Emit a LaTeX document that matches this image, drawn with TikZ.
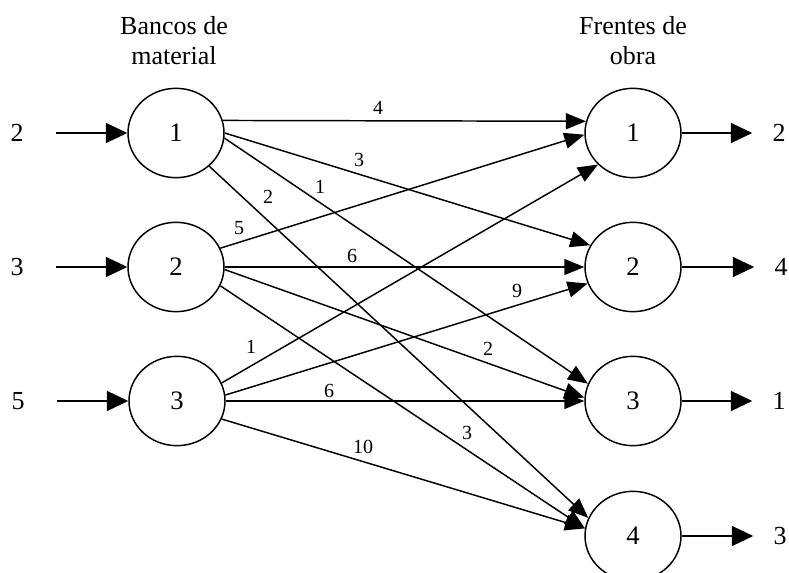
\documentclass[tikz,border=0pt]{standalone}
\usepackage{fontspec}
\setmainfont{Liberation Serif}
\usetikzlibrary{shapes.geometric,arrows.meta}

\begin{document}
\begin{tikzpicture}[x=0.75pt, y=-0.75pt,
    site/.style={ellipse, draw, line width=1.1pt, minimum width=72pt, minimum height=67pt, inner sep=0pt, font=\fontsize{20}{24}\selectfont},
    flow/.style={line width=1.1pt, -{Triangle[length=15pt, width=12pt]}},
    io/.style={line width=1.1pt, -{Triangle[length=16pt, width=15pt]}},
    qty/.style={inner sep=0pt, font=\fontsize{19.5}{22.5}\selectfont},
    cost/.style={fill=white, inner sep=1pt, font=\fontsize{15}{18}\selectfont}]
    \useasboundingbox (0,0) rectangle (789,573);

    % ==========================================
    % Column titles
    % ==========================================
    \node[qty, align=center] (banks) at (174,41) {Bancos de\\material};
    \node[qty, align=center] (fronts) at (633,41) {Frentes de\\obra};

    % Banks (left) and fronts (right)
    \node[site] (b1) at (176,133) {1};
    \node[site] (b2) at (176,267) {2};
    \node[site] (b3) at (177,401) {3};

    \node[site] (f1) at (633,133) {1};
    \node[site] (f2) at (633,267) {2};
    \node[site] (f3) at (633,401) {3};
    \node[site] (f4) at (633,536) {4};

    % Supplies
    \node[qty] (s1) at (17,133) {2};
    \node[qty] (s2) at (17,267) {3};
    \node[qty] (s3) at (18,401) {5};
    \draw[io, shorten <=24pt] (s1) -- (b1);
    \draw[io, shorten <=24pt] (s2) -- (b2);
    \draw[io, shorten <=24pt] (s3) -- (b3);

    % Demands
    \node[qty] (d1) at (779,133) {2};
    \node[qty] (d2) at (781,267) {4};
    \node[qty] (d3) at (779,401) {1};
    \node[qty] (d4) at (780,536) {3};
    \draw[io, shorten >=15pt] (f1) -- (d1);
    \draw[io, shorten >=15pt] (f2) -- (d2);
    \draw[io, shorten >=15pt] (f3) -- (d3);
    \draw[io, shorten >=15pt] (f4) -- (d4);

    % ==========================================
    % Haul routes bank -> front
    % ==========================================
    \draw[flow] (b1.15) -- (f1.166);
    \draw[flow] (b1.0) -- (f2.153);
    \draw[flow] (b1.-6) -- (f3.159);
    \draw[flow] (b1.-45) -- (f4.158);

    \draw[flow] (b2.23) -- (f1.182);
    \draw[flow] (b2) -- (f2);
    \draw[flow] (b2.-3) -- (f3.176);
    \draw[flow] (b2.-23) -- (f4.171);

    \draw[flow] (b3.22) -- (f1.222);
    \draw[flow] (b3.7) -- (f2.200);
    \draw[flow] (b3) -- (f3);
    \draw[flow] (b3.-22) -- (f4.171);

    % Unit costs on the routes
    \node[cost] (c11) at (378,108) {4};
    \node[cost] (c12) at (359,160) {3};
    \node[cost] (c13) at (320,187) {1};
    \node[cost] (c14) at (268,197) {2};
    \node[cost] (c21) at (239,228) {5};
    \node[cost] (c22) at (352,256) {6};
    \node[cost] (c23) at (488,349) {2};
    \node[cost] (c24) at (467,433) {3};
    \node[cost] (c31) at (251,347) {1};
    \node[cost] (c32) at (517,291) {9};
    \node[cost] (c33) at (329,391) {6};
    \node[cost] (c34) at (363,447) {10};
\end{tikzpicture}
\end{document}
